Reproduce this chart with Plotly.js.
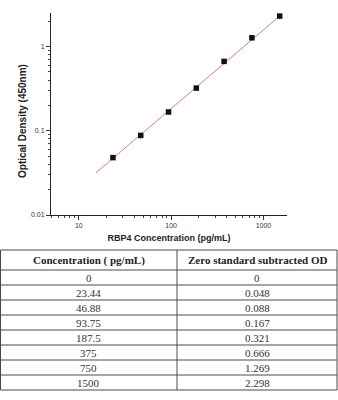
<!DOCTYPE html>
<html><head><meta charset="utf-8">
<script src="https://cdn.plot.ly/plotly-3.0.1.min.js"></script>
<style>html,body{margin:0;padding:0;background:#fff}#c{width:338px;height:400px}</style>
</head><body><div id="c"></div>
<script>
// Standard points (concentration pg/mL, OD)
const concentrations = [23.44, 46.88, 93.75, 187.5, 375, 750, 1500];
const odValues = [0.048, 0.088, 0.167, 0.321, 0.666, 1.269, 2.298];
// Fitted line endpoints
const fitX = [15.3, 1500];
const fitY = [0.0316, 2.30];
// Axis ticks
const xTickVals = [10, 100, 1000];
const xTickText = ['10', '100', '1000'];
const yTickVals = [0.01, 0.1, 1];
const yTickText = ['0.01', '0.1', '1'];
const yTitle = 'Optical Density (450nm)';
const xTitle = 'RBP4 Concentration (pg/mL)';
// Table
const tableHeader = ['Concentration ( pg/mL)', 'Zero standard subtracted OD'];
const tableConc = ['0', '23.44', '46.88', '93.75', '187.5', '375', '750', '1500'];
const tableOD = ['0', '0.048', '0.088', '0.167', '0.321', '0.666', '1.269', '2.298'];

const W = 338, H = 400;
// table geometry (pixels)
const T = {top: 250, headH: 20, rowH: 15, left: 0.5, mid: 177, right: 337};

const fitTrace = {
  x: fitX, y: fitY, type: 'scatter', mode: 'lines',
  line: {color: '#e07a7a', width: 1}, hoverinfo: 'skip', showlegend: false
};
const ptsTrace = {
  x: concentrations, y: odValues, type: 'scatter', mode: 'markers',
  marker: {symbol: 'square', size: 5.5, color: '#111'}, showlegend: false
};

const px = v => v / W;
const py = v => 1 - v / H;
const shapes = [];
const annotations = [];
const nRows = tableConc.length;
const bottom = T.top + T.headH + nRows * T.rowH;
const lineStyle = {color: '#4a4a4a', width: 1};
const hLines = [T.top, T.top + T.headH];
for (let i = 1; i <= nRows; i++) hLines.push(T.top + T.headH + i * T.rowH);
hLines.forEach(y => shapes.push({type: 'line', xref: 'paper', yref: 'paper', x0: px(T.left), x1: px(T.right), y0: py(y), y1: py(y), line: lineStyle}));
[T.left, T.mid, T.right].forEach(x => shapes.push({type: 'line', xref: 'paper', yref: 'paper', x0: px(x), x1: px(x), y0: py(T.top), y1: py(bottom), line: lineStyle}));
const serif = 'Liberation Serif, Times New Roman, serif';
const colCenters = [(T.left + T.mid) / 2, (T.mid + T.right) / 2];
tableHeader.forEach((h, j) => annotations.push({
  xref: 'paper', yref: 'paper', x: px(colCenters[j]), y: py(T.top + T.headH / 2),
  xanchor: 'center', yanchor: 'middle', showarrow: false, text: '<b>' + h + '</b>',
  font: {family: serif, size: 11, color: '#222'}
}));
[tableConc, tableOD].forEach((col, j) => col.forEach((v, i) => annotations.push({
  xref: 'paper', yref: 'paper', x: px(colCenters[j]), y: py(T.top + T.headH + (i + 0.5) * T.rowH),
  xanchor: 'center', yanchor: 'middle', showarrow: false, text: v,
  font: {family: serif, size: 11, color: '#333'}
})));
// y axis title as rotated annotation
annotations.push({
  xref: 'paper', yref: 'paper', x: px(22), y: py(121), xanchor: 'center', yanchor: 'middle',
  showarrow: false, textangle: -90, text: '<b>' + yTitle + '</b>',
  font: {family: 'Liberation Sans, Arial, sans-serif', size: 10, color: '#222'}
});

const axisFont = {family: 'Liberation Sans, Arial, sans-serif', size: 7, color: '#333'};
const layout = {
  width: W, height: H,
  margin: {l: 0, r: 0, t: 0, b: 0},
  paper_bgcolor: '#fff', plot_bgcolor: '#fff',
  showlegend: false,
  shapes: shapes,
  annotations: annotations,
  xaxis: {
    type: 'log', range: [Math.log10(5), Math.log10(1800)],
    domain: [51 / W, 287 / W],
    anchor: 'y',
    tickvals: xTickVals, ticktext: xTickText,
    ticks: 'outside', ticklen: 4, tickcolor: '#333', tickwidth: 1,
    minor: {ticks: 'outside', ticklen: 2, tickcolor: '#444', dtick: 'D1', showgrid: false},
    showline: true, linecolor: '#222', linewidth: 1,
    showgrid: false, zeroline: false,
    tickfont: axisFont,
    title: {text: '<b>' + xTitle + '</b>', font: {family: 'Liberation Sans, Arial, sans-serif', size: 9, color: '#222'}, standoff: 6}
  },
  yaxis: {
    type: 'log', range: [-2, Math.log10(2.5)],
    domain: [1 - 215 / H, 1 - 13 / H],
    anchor: 'x',
    tickvals: yTickVals, ticktext: yTickText,
    ticks: 'outside', ticklen: 4, tickcolor: '#333', tickwidth: 1,
    minor: {ticks: 'outside', ticklen: 2, tickcolor: '#444', dtick: 'D1', showgrid: false},
    showline: true, linecolor: '#222', linewidth: 1,
    showgrid: false, zeroline: false,
    tickfont: axisFont
  }
};
Plotly.newPlot('c', [fitTrace, ptsTrace], layout, {staticPlot: true, displayModeBar: false});
</script></body></html>
